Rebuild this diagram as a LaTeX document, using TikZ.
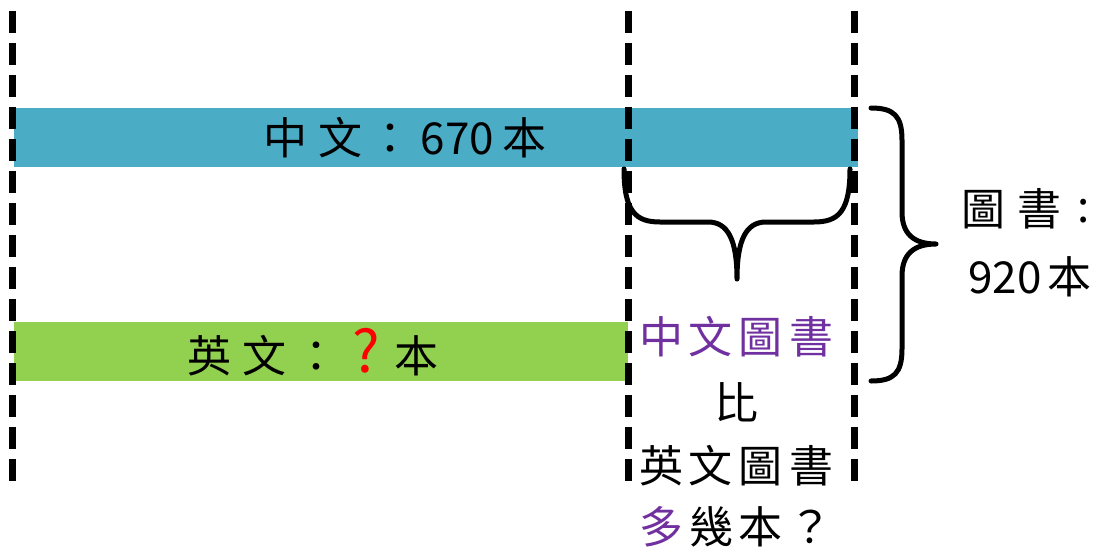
\documentclass[tikz,border=0pt]{standalone}
\usepackage{fontspec}
\newfontfamily\cjk{Noto Sans CJK TC}
\definecolor{barblue}{HTML}{4BACC6}
\definecolor{bargreen}{HTML}{92D050}
\definecolor{txtpurple}{HTML}{7030A0}
\newcommand\cg{\hspace{6pt}}
\newcommand\cgb{\hspace{9pt}}
\newcommand\bigq{{\fontsize{58}{58}\selectfont ?}}
\begin{document}
\begin{tikzpicture}[x=1pt,y=-1pt,
  guide/.style={line width=7pt, dash pattern=on 22pt off 10pt},
  bracepath/.style={line width=5pt, line cap=round, line join=round},
  lbl/.style={font=\cjk\fontsize{44}{52}\selectfont, inner sep=0pt, anchor=center}]
\useasboundingbox (0,0) rectangle (1101,552);
% bars
\fill[barblue] (14,108) rectangle (858,167);
\fill[bargreen] (14,322) rectangle (628,381);
% dashed guides
\coordinate (g1t) at (12,11);   \coordinate (g1b) at (12,482);
\coordinate (g2t) at (628,11);  \coordinate (g2b) at (628,482);
\coordinate (g3t) at (854,11);  \coordinate (g3b) at (854,482);
\draw[guide] (g1t) -- (g1b);
\draw[guide] (g2t) -- (g2b);
\draw[guide] (g3t) -- (g3b);
% bar labels
\node[lbl] (zh) at (405,138) {中\hspace{11pt}文\hspace{6pt}：\hspace{8pt}670\hspace{8pt}本};
\node[lbl, anchor=base] (en) at (313,372) {英\hspace{11pt}文\hspace{8pt}：\hspace{14pt}\textcolor{red}{\bigq}\hspace{14pt}本};
% lower brace
\draw[bracepath] (624,169) .. controls (624,212) and (636,222) .. (660,222)
  -- (708,222) .. controls (728,222) and (737,240) .. (737,279)
  .. controls (737,240) and (746,222) .. (766,222)
  -- (814,222) .. controls (838,222) and (850,212) .. (850,169);
% right brace
\draw[bracepath] (871,108) .. controls (894,108) and (902,116) .. (902,140)
  -- (902,212) .. controls (902,234) and (914,244) .. (936,244)
  .. controls (914,244) and (902,254) .. (902,276)
  -- (902,349) .. controls (902,373) and (894,381) .. (871,381);
% right labels
\node[lbl] (tot1) at (1026,209) {圖\hspace{12pt}書\hspace{16pt}\raisebox{3pt}{:}};
\node[lbl] (tot2) at (1030,277) {920\cg 本};
% question column
\node[lbl, text=txtpurple] (q1) at (736,337) {中\cg 文\cg 圖\cg 書};
\node[lbl] (q2) at (736,402) {比};
\node[lbl] (q3) at (736,466) {英\cg 文\cg 圖\cg 書};
\node[lbl] (q4) at (736,527) {\textcolor{txtpurple}{多}\cg 幾\cg 本\cg ？};
\end{tikzpicture}
\end{document}
